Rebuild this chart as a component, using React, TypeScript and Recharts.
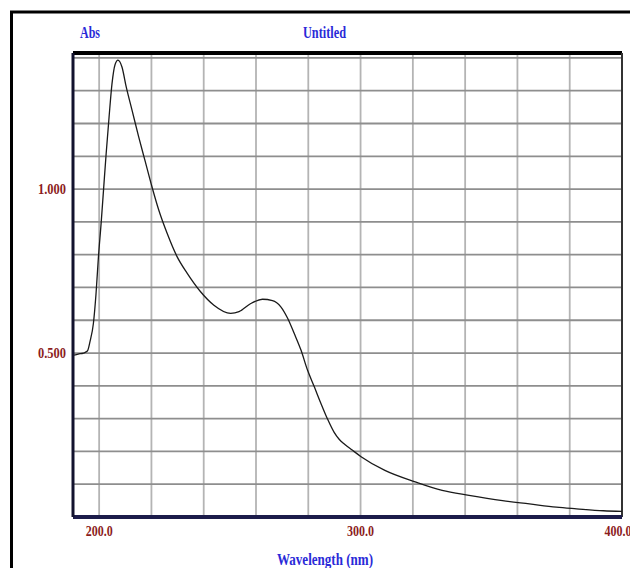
import React from 'react';
import { LineChart, Line, XAxis, YAxis, CartesianGrid, ReferenceLine } from 'recharts';

// Wavelength (nm), left to right
const wavelength = [
  190.4, 192.0, 194.0, 195.5, 196.5, 197.8, 198.8, 199.7, 200.8, 201.7,
  202.7, 203.8, 204.9, 206.1, 207.2, 208.7, 210.4, 212.6, 215.1, 217.7,
  220.2, 222.8, 226.0, 229.8, 233.7, 238.8, 243.9, 250.3, 253.5, 258.0,
  262.5, 266.3, 269.5, 272.1, 274.6, 277.2, 279.7, 282.3, 284.8, 287.4,
  289.9, 291.8, 294.0, 296.8, 300.2, 309.3, 320.9, 331.2, 341.5, 354.3,
  364.6, 374.9, 382.6, 392.9, 400.0,
];

// Absorbance at each wavelength
const absorbance = [
  0.494, 0.497, 0.500, 0.506, 0.535, 0.590, 0.680, 0.790, 0.900, 1.000,
  1.110, 1.220, 1.320, 1.380, 1.393, 1.373, 1.310, 1.240, 1.160, 1.082,
  1.007, 0.936, 0.865, 0.794, 0.743, 0.687, 0.646, 0.621, 0.626, 0.651,
  0.664, 0.660, 0.641, 0.606, 0.560, 0.509, 0.448, 0.397, 0.347, 0.298,
  0.258, 0.237, 0.221, 0.204, 0.184, 0.142, 0.107, 0.081, 0.066, 0.050,
  0.040, 0.030, 0.025, 0.019, 0.017,
];

const xTicks = [200, 220, 240, 260, 280, 300, 320, 340, 360, 380, 400];
const xLabels: Record<number, string> = { 200: '200.0', 300: '300.0', 400: '400.0' };
const yTicks = [0.1, 0.2, 0.3, 0.4, 0.5, 0.6, 0.7, 0.8, 0.9, 1.0, 1.1, 1.2, 1.3, 1.4];
const yLabels: Record<string, string> = { '0.5': '0.500', '1': '1.000' };

const X_MIN = 190;
const X_MAX = 400;
const Y_MAX = 1.415;

const data = wavelength.map((w, i) => ({ w, abs: absorbance[i] }));

const tickFont = {
  fontFamily: '"Liberation Serif", serif',
  fontWeight: 700,
  fontSize: 15,
  fill: '#8b1c1c',
};

const blueFont = {
  fontFamily: '"Liberation Serif", serif',
  fontWeight: 700,
  fontSize: 16,
  fill: '#2a2ad8',
};

function YTick(props: any) {
  const { x, y, payload } = props;
  const label = yLabels[String(Math.round(payload.value * 10) / 10)];
  if (!label) return null;
  return (
    <text x={x + 1} y={y} dy={5} textAnchor="end" textLength={28} lengthAdjust="spacingAndGlyphs" {...tickFont}>
      {label}
    </text>
  );
}

function XTick(props: any) {
  const { x, y, payload } = props;
  const label = xLabels[payload.value];
  if (!label) return null;
  return (
    <text x={x} y={y + 11} textAnchor="middle" textLength={27} lengthAdjust="spacingAndGlyphs" {...tickFont}>
      {label}
    </text>
  );
}

export default function App() {
  return (
    <div style={{ position: 'fixed', left: 0, top: 0, width: 630, height: 568, background: '#fff', overflow: 'hidden' }}>
      <svg width={630} height={568} style={{ position: 'absolute', left: 0, top: 0 }}>
        <line x1={10} y1={12} x2={630} y2={12} stroke="#000" strokeWidth={3} />
        <line x1={11.5} y1={12} x2={11.5} y2={568} stroke="#000" strokeWidth={3} />
        <text x={80} y={38} textLength={20} lengthAdjust="spacingAndGlyphs" {...blueFont}>Abs</text>
        <text x={303} y={38} textLength={43} lengthAdjust="spacingAndGlyphs" {...blueFont}>Untitled</text>
        <text x={277} y={565} textLength={96} lengthAdjust="spacingAndGlyphs" {...blueFont}>Wavelength (nm)</text>
      </svg>
      <div style={{ position: 'absolute', left: 0, top: 0 }}>
        <LineChart width={630} height={568} data={data} margin={{ top: 53, right: 8, bottom: 21, left: 13 }}>
          <CartesianGrid stroke="#b4b4b4" strokeWidth={1.8} horizontal={false} />
          <CartesianGrid stroke="#8e8e8e" strokeWidth={1.8} vertical={false} />
          <XAxis
            dataKey="w"
            type="number"
            domain={[X_MIN, X_MAX]}
            ticks={xTicks}
            allowDataOverflow
            height={30}
            tick={<XTick />}
            tickLine={false}
            axisLine={{ stroke: '#1c1c4a', strokeWidth: 4 }}
          />
          <YAxis
            type="number"
            domain={[0, Y_MAX]}
            ticks={yTicks}
            allowDataOverflow
            width={60}
            tick={<YTick />}
            tickLine={false}
            axisLine={{ stroke: '#12122e', strokeWidth: 3 }}
          />
          {/* frame: thick top edge, thin right edge */}
          <ReferenceLine y={Y_MAX} stroke="#000" strokeWidth={4} ifOverflow="visible" />
          <ReferenceLine x={X_MAX} stroke="#333" strokeWidth={2} ifOverflow="visible" />
          <Line
            type="monotone"
            dataKey="abs"
            stroke="#1a1a1a"
            strokeWidth={1.3}
            dot={false}
            isAnimationActive={false}
          />
        </LineChart>
      </div>
    </div>
  );
}
